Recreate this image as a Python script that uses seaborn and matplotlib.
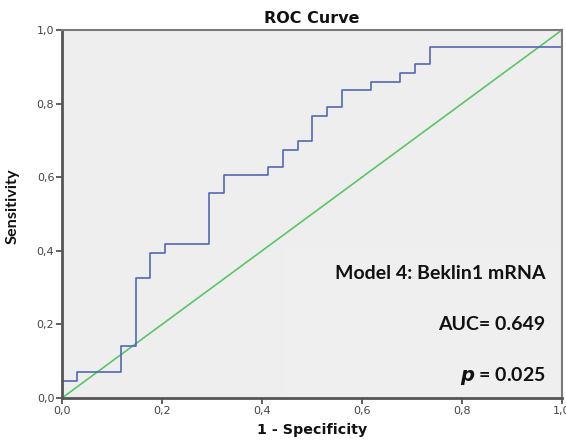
import matplotlib
matplotlib.use("Agg")
import matplotlib.pyplot as plt
from matplotlib.patches import Rectangle
import seaborn as sns
import pandas as pd

# ROC coordinates (1 - specificity, sensitivity) for Beklin1 mRNA
fpr = [0.000, 0.000, 0.029, 0.029, 0.118, 0.118, 0.147, 0.147, 0.176, 0.176,
       0.206, 0.206, 0.294, 0.294, 0.324, 0.324, 0.412, 0.412, 0.441, 0.441,
       0.471, 0.471, 0.500, 0.500, 0.529, 0.529, 0.559, 0.559, 0.618, 0.618,
       0.676, 0.676, 0.706, 0.706, 0.735, 0.735, 1.000, 1.000]
tpr = [0.000, 0.047, 0.047, 0.070, 0.070, 0.140, 0.140, 0.326, 0.326, 0.395,
       0.395, 0.419, 0.419, 0.558, 0.558, 0.605, 0.605, 0.628, 0.628, 0.674,
       0.674, 0.698, 0.698, 0.767, 0.767, 0.791, 0.791, 0.837, 0.837, 0.860,
       0.860, 0.884, 0.884, 0.907, 0.907, 0.953, 0.953, 1.000]
ref_x = [0.0, 1.0]
ref_y = [0.0, 1.0]
ticks = [0.0, 0.2, 0.4, 0.6, 0.8, 1.0]
tick_labels = ["0,0", "0,2", "0,4", "0,6", "0,8", "1,0"]

model_label = "Model 4: Beklin1 mRNA"
auc_label = "AUC= 0.649"
p_value = "0.025"

sns.set_style("white")
plt.rcParams["font.family"] = ["DejaVu Sans"]

fig = plt.figure(figsize=(5.66, 4.41), dpi=100)
ax = fig.add_axes([62 / 566, 1 - 398 / 441, 500 / 566, 368 / 441])
ax.set_facecolor("#eeeeee")

# annotation panel, a shade lighter than the plot area
ax.add_patch(Rectangle((0.442, 0.0), 0.558, 0.413, transform=ax.transAxes,
                       facecolor="#efefef", edgecolor="none", zorder=0.5))

curve = pd.DataFrame({"fpr": fpr, "tpr": tpr})
diag = pd.DataFrame({"x": ref_x, "y": ref_y})
sns.lineplot(data=diag, x="x", y="y", ax=ax, color="#5cc566", lw=1.2,
             sort=False, estimator=None)
sns.lineplot(data=curve, x="fpr", y="tpr", ax=ax, color="#5468b4", lw=1.2,
             sort=False, estimator=None)

ax.set_xlim(0, 1)
ax.set_ylim(0, 1)
ax.set_xticks(ticks)
ax.set_xticklabels(tick_labels)
ax.set_yticks(ticks)
ax.set_yticklabels(tick_labels)
ax.tick_params(axis="both", direction="out", length=4, width=1.2,
               color="#444444", labelsize=8, labelcolor="#444444", pad=1.5,
               bottom=True, left=True)

for side in ("left", "bottom"):
    ax.spines[side].set_color("#555555")
    ax.spines[side].set_linewidth(2.0)
for side in ("top", "right"):
    ax.spines[side].set_color("#7a7a7a")
    ax.spines[side].set_linewidth(1.5)

ax.set_title("ROC Curve", fontsize=11.5, fontweight="bold", pad=5,
             color="#111111")
ax.set_xlabel("1 - Specificity", fontsize=10.3, fontweight="bold", labelpad=5,
              color="#111111")
ax.set_ylabel("Sensitivity", fontsize=11.7, fontweight="bold",
              family=["Lato", "DejaVu Sans"], color="#111111")
ax.yaxis.set_label_coords(-0.084, 0.52)

txt_kw = dict(ha="right", va="baseline", fontsize=14, fontweight="bold",
              family=["Lato", "DejaVu Sans"], color="#111111")
ax.text(0.967, 0.323, model_label, **txt_kw)
ax.text(0.967, 0.185, auc_label, **txt_kw)
ax.text(0.967, 0.046, r"$\bfit{p}$ = " + p_value, **txt_kw)

fig.savefig("out.png", dpi=100, facecolor="white")
